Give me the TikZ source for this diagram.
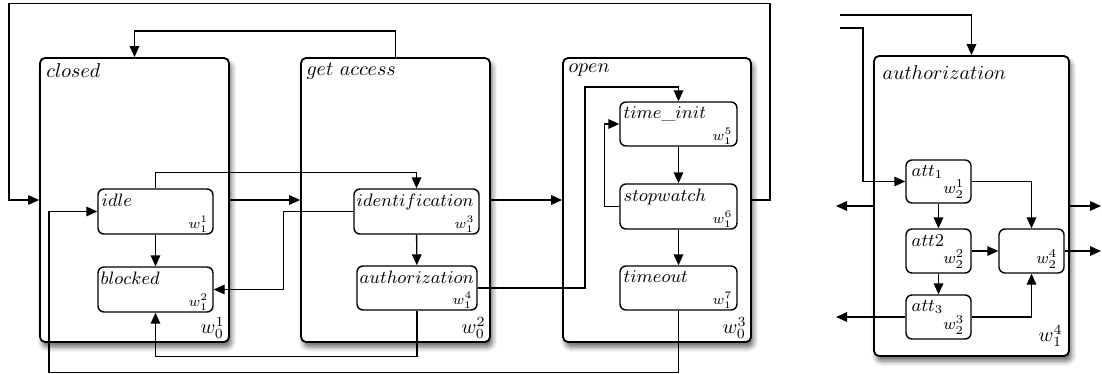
\documentclass[tikz,border=0pt]{standalone}
\usetikzlibrary{arrows.meta,shadows.blur,fit}

\tikzset{
  state/.style={draw, line width=0.9pt, rounded corners=2.5pt, fill=white, inner sep=0pt,
    blur shadow={shadow xshift=1.2pt, shadow yshift=-2.5pt, shadow blur radius=2.5pt, shadow opacity=60}},
  substate/.style={draw, line width=0.7pt, rounded corners=3pt, fill=white, inner sep=0pt},
  ttl/.style={anchor=north west, inner sep=0pt},
  idx/.style={anchor=south east, inner sep=0pt},
  subttl/.style={anchor=north west, inner sep=0pt, font=\small},
  subidx/.style={anchor=south east, inner sep=0pt, font=\scriptsize},
  attidx/.style={anchor=south east, inner sep=0pt, font=\footnotesize},
  conn/.style={line width=0.7pt, -{Triangle[length=5.5pt,width=4.8pt]}},
  link/.style={line width=0.7pt}
}

\begin{document}
\begin{tikzpicture}[x=0.5pt,y=-0.5pt]
\useasboundingbox (0,0) rectangle (1102,374);

% ---------- top-level states ----------
\node[state, fit={(40,58)(229,342)}] (closed) {};
\node[ttl] (closedT) at ([shift={(3.5pt,-3pt)}]closed.north west) {$closed$};
\node[idx] (closedW) at ([shift={(-2.5pt,2pt)}]closed.south east) {$w_0^1$};

\node[state, fit={(301,58)(490,342)}] (getaccess) {};
\node[ttl] (getaccessT) at ([shift={(3pt,-3pt)}]getaccess.north west) {$get\ access$};
\node[idx] (getaccessW) at ([shift={(-2.5pt,2pt)}]getaccess.south east) {$w_0^2$};

\node[state, fit={(563,58)(751,342)}] (open) {};
\node[ttl] (openT) at ([shift={(3pt,-3pt)}]open.north west) {$open$};
\node[idx] (openW) at ([shift={(-2.5pt,2pt)}]open.south east) {$w_0^3$};

% ---------- sub-states ----------
\node[substate, fit={(98,189)(213,234)}] (idle) {};
\node[subttl] (idleT) at ([shift={(2pt,-2.5pt)}]idle.north west) {$idle$};
\node[subidx] (idleW) at ([shift={(-2.5pt,1pt)}]idle.south east) {$w_1^1$};

\node[substate, fit={(98,267)(213,312)}] (blocked) {};
\node[subttl] (blockedT) at ([shift={(1.5pt,-2.5pt)}]blocked.north west) {$blocked$};
\node[subidx] (blockedW) at ([shift={(-2.5pt,1pt)}]blocked.south east) {$w_1^2$};

\node[substate, fit={(354,189)(479,234)}] (ident) {};
\node[subttl] (identT) at ([shift={(1.5pt,-2.5pt)}]ident.north west) {$identification$};
\node[subidx] (identW) at ([shift={(-2.5pt,1pt)}]ident.south east) {$w_1^3$};

\node[substate, fit={(357,266)(477,310)}] (auth) {};
\node[subttl] (authT) at ([shift={(1.5pt,-2.5pt)}]auth.north west) {$authorization$};
\node[subidx] (authW) at ([shift={(-2.5pt,1pt)}]auth.south east) {$w_1^4$};

\node[substate, fit={(620,102)(737,146)}] (timeinit) {};
\node[subttl] (timeinitT) at ([shift={(2pt,-2.5pt)}]timeinit.north west) {$time\_init$};
\node[subidx] (timeinitW) at ([shift={(-2.5pt,1pt)}]timeinit.south east) {$w_1^5$};

\node[substate, fit={(620,184)(737,229)}] (stopwatch) {};
\node[subttl] (stopwatchT) at ([shift={(2pt,-2.5pt)}]stopwatch.north west) {$stopwatch$};
\node[subidx] (stopwatchW) at ([shift={(-2.5pt,1pt)}]stopwatch.south east) {$w_1^6$};

\node[substate, fit={(620,266)(737,310)}] (timeout) {};
\node[subttl] (timeoutT) at ([shift={(2pt,-2.5pt)}]timeout.north west) {$timeout$};
\node[subidx] (timeoutW) at ([shift={(-2.5pt,1pt)}]timeout.south east) {$w_1^7$};

% ---------- transitions between top-level states ----------
\draw[conn] (open.east) -- ++(18,0) |- (9,3.5) |- (closed.west);
\draw[conn] (getaccess.north) -- ++(0,-26) -| (closed.north);
\draw[conn] (closed.east) -- (getaccess.west);
\draw[conn] (getaccess.east) -- (open.west);

% ---------- transitions between sub-states ----------
\draw[conn] (idle.north) -- ++(0,-16) -| (ident.north);
\draw[conn] (idle) -- (blocked);
\draw[conn] (ident.west) -- ++(-70,0) |- (blocked.east);
\draw[conn] (ident) -- (auth);
\draw[conn] (auth.south) -- ++(0,46) -| (blocked.south);
\draw[conn] (auth.east) -| (585,87) -| (timeinit.north);
\draw[conn] (timeinit) -- (stopwatch);
\draw[conn] (stopwatch) -- (timeout);
\draw[conn] (stopwatch.west) -- ++(-15,0) |- (timeinit.west);
\draw[conn] (timeout.south) -- ++(0,62) -| (49,211.5) -- (idle.west);

% ---------- refinement of authorization ----------
\node[state, fit={(874,56)(1069,356)}] (authbox) {};
\node[ttl] (authboxT) at ([shift={(4.5pt,-5pt)}]authbox.north west) {$authorization$};
\node[idx] (authboxW) at ([shift={(-3.5pt,5pt)}]authbox.south east) {$w_1^4$};

\node[substate, fit={(906,160)(971,203)}] (att1) {};
\node[subttl] (att1T) at ([shift={(3pt,-3pt)}]att1.north west) {$att_1$};
\node[attidx] (att1W) at ([shift={(-3.5pt,2.5pt)}]att1.south east) {$w_2^1$};

\node[substate, fit={(906,229)(971,273)}] (att2) {};
\node[subttl] (att2T) at ([shift={(3pt,-3pt)}]att2.north west) {$att2$};
\node[attidx] (att2W) at ([shift={(-3.5pt,2.5pt)}]att2.south east) {$w_2^2$};

\node[substate, fit={(906,295)(971,339)}] (att3) {};
\node[subttl] (att3T) at ([shift={(3pt,-3pt)}]att3.north west) {$att_3$};
\node[attidx] (att3W) at ([shift={(-3.5pt,2.5pt)}]att3.south east) {$w_2^3$};

\node[substate, fit={(999,229)(1064,273)}] (att4) {};
\node[attidx] (att4W) at ([shift={(-3.5pt,2.5pt)}]att4.south east) {$w_2^4$};

\coordinate (inA) at (840,15);
\coordinate (inB) at (840,28);
\coordinate (outL) at (836,206);
\coordinate (outL3) at (836,317);
\coordinate (outR) at (1101,206);
\coordinate (outR4) at (1101,251);

\draw[conn] (inA) -| (authbox.north);
\draw[conn] (inB) -| (863,181.5) -- (att1.west);
\draw[conn] (att1) -- (att2);
\draw[conn] (att2) -- (att3);
\draw[conn] (att1.east) -| (att4.north);
\draw[conn] (att2.east) -- (att4.west);
\draw[conn] (att3.east) -| (att4.south);
\draw[conn] (authbox.west) -- (outL);
\draw[conn] (att3.west) -- (outL3);
\draw[conn] (authbox.east) -- (outR);
\draw[conn] (att4.east) -- (outR4);
\end{tikzpicture}
\end{document}
